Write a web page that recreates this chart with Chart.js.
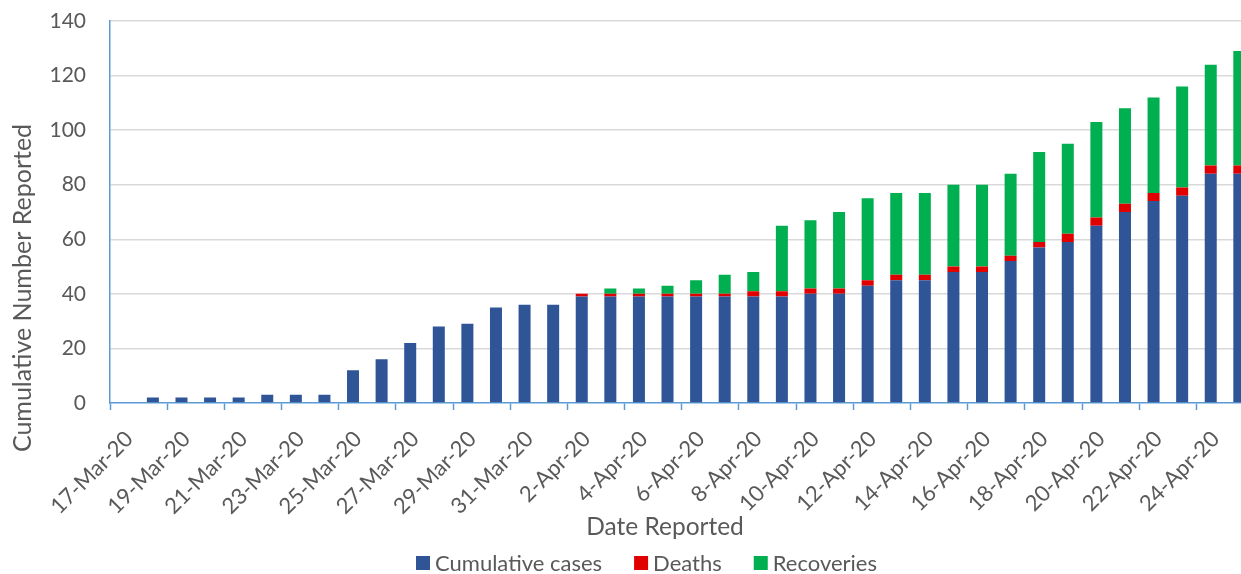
<!DOCTYPE html>
<html>
<head>
<meta charset="utf-8">
<script src="https://cdn.jsdelivr.net/npm/chart.js@4.4.1/dist/chart.umd.min.js"></script>
<style>
  html, body { margin: 0; padding: 0; background: #ffffff; overflow: hidden; width: 1241px; height: 574px; }
  #wrap { position: absolute; left: 0; top: 0; width: 1274px; height: 574px; }
</style>
</head>
<body>
<div id="wrap"><canvas id="c" width="1274" height="574"></canvas></div>
<script>
// ---- data ----
const dates = [
  '17-Mar-20','18-Mar-20','19-Mar-20','20-Mar-20','21-Mar-20','22-Mar-20','23-Mar-20','24-Mar-20',
  '25-Mar-20','26-Mar-20','27-Mar-20','28-Mar-20','29-Mar-20','30-Mar-20','31-Mar-20',
  '1-Apr-20','2-Apr-20','3-Apr-20','4-Apr-20','5-Apr-20','6-Apr-20','7-Apr-20','8-Apr-20',
  '9-Apr-20','10-Apr-20','11-Apr-20','12-Apr-20','13-Apr-20','14-Apr-20','15-Apr-20','16-Apr-20',
  '17-Apr-20','18-Apr-20','19-Apr-20','20-Apr-20','21-Apr-20','22-Apr-20','23-Apr-20','24-Apr-20','25-Apr-20'
];
const cumulativeCases = [0,2,2,2,2,3,3,3,12,16,22,28,29,35,36,36,39,39,39,39,39,39,39,39,40,40,43,45,45,48,48,52,57,59,65,70,74,76,84,84];
const deaths          = [0,0,0,0,0,0,0,0,0,0,0,0,0,0,0,0,1,1,1,1,1,1,2,2,2,2,2,2,2,2,2,2,2,3,3,3,3,3,3,3];
const recoveries      = [0,0,0,0,0,0,0,0,0,0,0,0,0,0,0,0,0,2,2,3,5,7,7,24,25,28,30,30,30,30,30,30,33,33,35,35,35,37,37,42];
const yTicks = { min: 0, max: 140, step: 20 };
const seriesNames = ['Cumulative cases', 'Deaths', 'Recoveries'];
const xTitle = 'Date Reported';
const yTitle = 'Cumulative Number Reported';

// ---- style ----
const TEXT = '#595959';
const AXIS = '#5B9BD5';
const GRID = '#d9d9d9';
const COLORS = ['#2F5597', '#E00000', '#00B050'];
const FONT = 'Lato';
const CLEAR = 'rgba(0,0,0,0)';
Chart.defaults.font.family = FONT;
Chart.defaults.color = TEXT;

const titlesAndLegend = {
  id: 'titlesAndLegend',
  afterDraw(chart) {
    const ctx = chart.ctx;
    ctx.save();
    ctx.fillStyle = TEXT;
    ctx.textAlign = 'center';
    ctx.textBaseline = 'middle';
    ctx.font = '24.5px ' + FONT;
    ctx.fillText(xTitle, 665, 527);
    ctx.save();
    ctx.font = '25px ' + FONT;
    ctx.translate(23, 288);
    ctx.rotate(-Math.PI / 2);
    ctx.fillText(yTitle, 0, 0);
    ctx.restore();

    // legend
    ctx.font = '22px ' + FONT;
    const box = 14, gap = 5, spacing = 32, cy = 563;
    const items = chart.data.datasets.map(d => ({ text: d.label, color: d.backgroundColor, w: ctx.measureText(d.label).width }));
    let total = items.reduce((s, it) => s + box + gap + it.w, 0) + spacing * (items.length - 1);
    let x = 646.5 - total / 2;
    ctx.textAlign = 'left';
    items.forEach(it => {
      ctx.fillStyle = it.color;
      ctx.fillRect(x, cy - box / 2, box, box);
      ctx.fillStyle = TEXT;
      ctx.fillText(it.text, x + box + gap, cy + 1);
      x += box + gap + it.w + spacing;
    });
    ctx.restore();
  }
};

const barOpts = { barPercentage: 0.42, categoryPercentage: 1.0, borderWidth: 0 };

new Chart(document.getElementById('c'), {
  type: 'bar',
  data: {
    labels: dates,
    datasets: [
      Object.assign({ label: seriesNames[0], data: cumulativeCases, backgroundColor: COLORS[0] }, barOpts),
      Object.assign({ label: seriesNames[1], data: deaths, backgroundColor: COLORS[1] }, barOpts),
      Object.assign({ label: seriesNames[2], data: recoveries, backgroundColor: COLORS[2] }, barOpts)
    ]
  },
  options: {
    responsive: false,
    animation: false,
    layout: { padding: { top: 21, right: 0, left: 0, bottom: 0 } },
    plugins: {
      legend: { display: false },
      tooltip: { enabled: false },
      title: { display: false }
    },
    scales: {
      x: {
        stacked: true,
        offset: true,
        afterFit(s) { s.height = 171; },
        border: { display: true, color: AXIS, width: 1.5 },
        grid: {
          offset: true,
          drawOnChartArea: false,
          drawTicks: true,
          tickLength: 7,
          tickWidth: 1.5,
          color: CLEAR,
          tickColor: (c) => (c.index % 2 === 0 ? AXIS : CLEAR)
        },
        ticks: {
          autoSkip: false,
          maxRotation: 45,
          minRotation: 45,
          padding: 16,
          labelOffset: 5,
          color: TEXT,
          font: { size: 22, family: FONT },
          callback: (v, i) => (i % 2 === 0 ? dates[i] : '')
        }
      },
      y: {
        stacked: true,
        min: yTicks.min,
        max: yTicks.max,
        afterFit(s) { s.width = 110; },
        border: { display: true, color: AXIS, width: 1.5 },
        grid: {
          drawTicks: true,
          tickLength: 24,
          tickColor: CLEAR,
          lineWidth: 1.5,
          color: (c) => (c.tick && c.tick.value === 0 ? CLEAR : GRID)
        },
        ticks: {
          stepSize: yTicks.step,
          padding: 0,
          color: TEXT,
          font: { size: 21, family: FONT }
        }
      }
    }
  },
  plugins: [titlesAndLegend]
});
</script>
</body>
</html>
